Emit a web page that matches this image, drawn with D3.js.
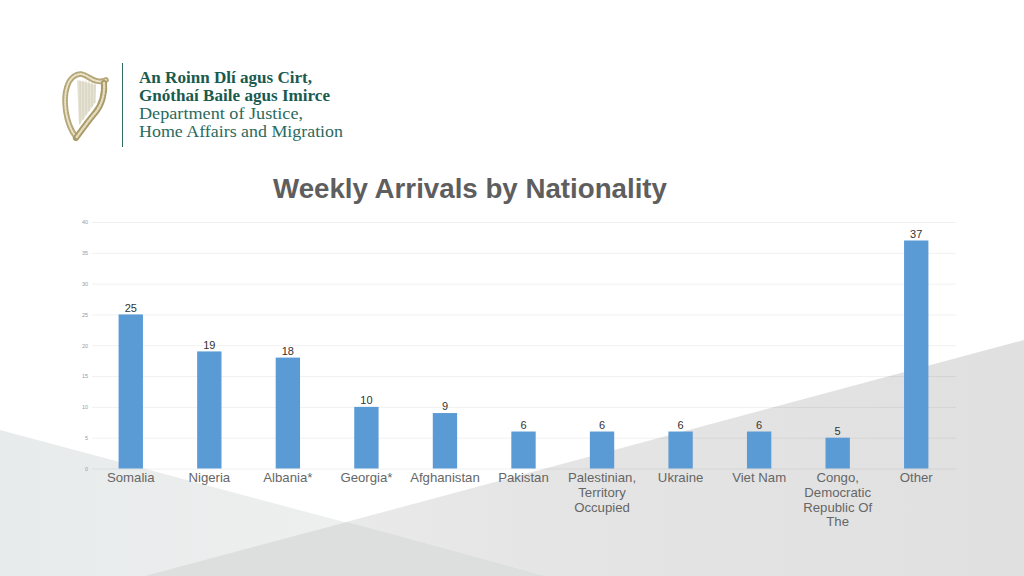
<!DOCTYPE html>
<html><head><meta charset="utf-8">
<script src="https://cdnjs.cloudflare.com/ajax/libs/d3/7.8.5/d3.min.js"></script>
<style>html,body{margin:0;padding:0;background:#fff}svg{display:block}text{font-family:"Liberation Sans",Arial,sans-serif}</style>
</head><body><svg id="c" width="1024" height="576" viewBox="0 0 1024 576"></svg>
<script>
const categories=["Somalia","Nigeria","Albania*","Georgia*","Afghanistan","Pakistan","Palestinian, Territory Occupied","Ukraine","Viet Nam","Congo, Democratic Republic Of The","Other"];
const categoryLines=[["Somalia"],["Nigeria"],["Albania*"],["Georgia*"],["Afghanistan"],["Pakistan"],["Palestinian,","Territory","Occupied"],["Ukraine"],["Viet Nam"],["Congo,","Democratic","Republic Of","The"],["Other"]];
const values=[25,19,18,10,9,6,6,6,6,5,37];
const yTicks=[0,5,10,15,20,25,30,35,40];
const title="Weekly Arrivals by Nationality";
const logoBold=["An Roinn Dlí agus Cirt,","Gnóthaí Baile agus Imirce"];
const logoRegular=["Department of Justice,","Home Affairs and Migration"];

const svg=d3.select("#c");
const defs=svg.append("defs");
const g1=defs.append("linearGradient").attr("id","gl").attr("x1",0).attr("x2",1).attr("y1",0).attr("y2",0);
g1.append("stop").attr("offset",0).attr("stop-color","#e8ebeb");
g1.append("stop").attr("offset",1).attr("stop-color","#f1f2f2");
const g2=defs.append("linearGradient").attr("id","gr").attr("x1",0).attr("x2",1).attr("y1",0).attr("y2",0);
g2.append("stop").attr("offset",0).attr("stop-color","#eeeeee");
g2.append("stop").attr("offset",0.45).attr("stop-color","#e5e5e5");
g2.append("stop").attr("offset",1).attr("stop-color","#e0e0e0");
svg.append("path").attr("d","M1024,340L1024,576L145,576Z").attr("fill","url(#gr)");
svg.append("path").attr("d","M0,430L546,576L0,576Z").attr("fill","url(#gl)");
svg.append("path").attr("d","M145,576L347,522L546,576Z").attr("fill","#dddfdf");

// logo
const logo=svg.append("g");
logo.append("line").attr("x1",122.5).attr("x2",122.5).attr("y1",63).attr("y2",147).attr("stroke","#2f6f62").attr("stroke-width",1);
const harp=logo.append("g").attr("transform","translate(1,-1)").attr("fill","none").attr("stroke-linecap","round");
harp.append("path").attr("d","M76,81L78,126L94,104L95,86Z").attr("fill","#e6e3d6").attr("stroke","none");
harp.selectAll("line.s").data([79,82,85,88,91,94]).enter().append("line").attr("class","s")
 .attr("x1",d=>d).attr("x2",d=>d).attr("y1",82).attr("y2",d=>126-(d-78)*1.4).attr("stroke","#d2ccb3").attr("stroke-width",.8);
harp.append("path").attr("d","M75,138C64,124 62,100 66,88C68,80 74,75 80,75C86,76 90,81 96,82C100,83 103,82 105,81").attr("stroke","#b5a778").attr("stroke-width",5.6);
harp.append("path").attr("d","M75,138C64,124 62,100 66,88C68,80 74,75 80,75C86,76 90,81 96,82C100,83 103,82 105,81").attr("stroke","#e8e2c8").attr("stroke-width",2).attr("stroke-dasharray","1.5 1.5");
harp.append("path").attr("d","M103,84C104,94 101,106 94,114C88,121 83,128 75,139").attr("stroke","#a99a6a").attr("stroke-width",6.2);
harp.append("path").attr("d","M103,84C104,94 101,106 94,114C88,121 83,128 75,139").attr("stroke","#e4dcbc").attr("stroke-width",2.4).attr("stroke-dasharray","1.6 1.6");
logo.selectAll("text.b").data(logoBold).enter().append("text").attr("class","b")
 .attr("x",139).attr("y",(d,i)=>83+i*18).attr("font-size",17).attr("font-weight",700)
 .attr("textLength",(d,i)=>[173,191][i]).attr("lengthAdjust","spacingAndGlyphs")
 .style("font-family","'Liberation Serif',serif").attr("fill","#1a5a4f").text(d=>d);
logo.selectAll("text.r").data(logoRegular).enter().append("text").attr("class","r")
 .attr("x",139).attr("y",(d,i)=>119+i*18).attr("font-size",17.5)
 .attr("textLength",(d,i)=>[164,204][i]).attr("lengthAdjust","spacingAndGlyphs")
 .style("font-family","'Liberation Serif',serif").attr("fill","#2a6a5e").text(d=>d);

// chart
const x=d3.scaleBand().domain(categories).range([91.5,955.5]).paddingInner(0.69).paddingOuter(0.345);
const y=d3.scaleLinear().domain([0,40]).range([468.5,222]);

svg.append("text").attr("x",470).attr("y",198).attr("text-anchor","middle").attr("font-size",27.7).attr("font-weight",700).attr("fill","#5e5e5e").text(title);

const ya=svg.append("g").attr("transform","translate(92,0)").call(d3.axisLeft(y).tickValues(yTicks).tickSize(-864).tickPadding(4));
ya.select(".domain").remove();
ya.selectAll("line").attr("stroke","#000").attr("stroke-opacity",.06).attr("stroke-width",1);
ya.selectAll("text").attr("font-size",5.5).attr("fill","#999").style("font-family","'Liberation Sans',sans-serif");

svg.selectAll("rect.bar").data(values).enter().append("rect").attr("class","bar")
 .attr("x",(d,i)=>x(categories[i])).attr("width",x.bandwidth())
 .attr("y",d=>y(d)).attr("height",d=>y(0)-y(d)).attr("fill","#5b9bd5");

svg.selectAll("text.val").data(values).enter().append("text").attr("class","val")
 .attr("x",(d,i)=>x(categories[i])+x.bandwidth()/2).attr("y",d=>y(d)-2.6)
 .attr("text-anchor","middle").attr("font-size",11).attr("fill","#333").text(d=>d);

const xl=svg.selectAll("text.cat").data(categoryLines).enter().append("text").attr("class","cat")
 .attr("text-anchor","middle").attr("font-size",13.2).attr("fill","#666");
xl.each(function(lines,i){
  const cx=x(categories[i])+x.bandwidth()/2;
  d3.select(this).selectAll("tspan").data(lines).enter().append("tspan")
   .attr("x",cx).attr("y",(d,j)=>482+j*14.8).text(d=>d);
});
</script></body></html>
